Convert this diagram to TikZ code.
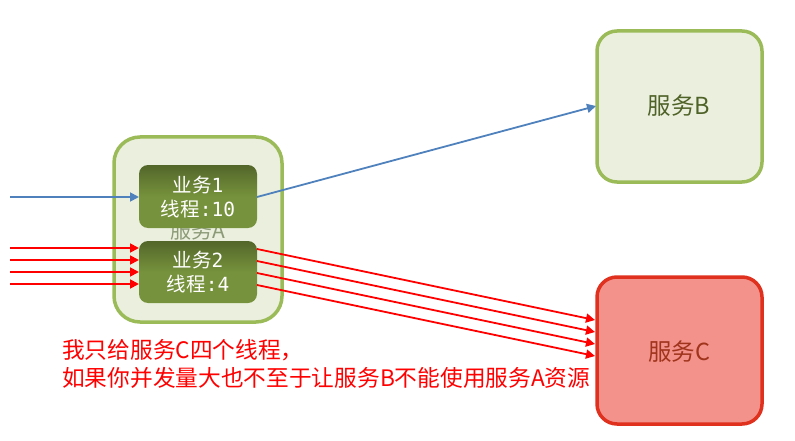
\documentclass[tikz,border=0pt]{standalone}
\usepackage{fontspec}
\setmainfont{Noto Sans CJK SC}
\newfontfamily\monofam{DejaVu Sans Mono}
\usetikzlibrary{arrows.meta}
\definecolor{grnborder}{HTML}{9BBB59}
\definecolor{grnfill}{HTML}{EBF0DE}
\definecolor{olive}{HTML}{76923C}
\definecolor{olivedark}{HTML}{4F6228}
\definecolor{cfill}{HTML}{F2928A}
\definecolor{cborder}{HTML}{E0301E}
\definecolor{ctext}{HTML}{A0341C}
\definecolor{bluearrow}{HTML}{4F81BD}
\definecolor{redarrow}{HTML}{FF0000}
\definecolor{labelA}{HTML}{8C9A78}
\tikzset{
  svcbox/.style={draw=grnborder, fill=grnfill, line width=3.5pt, rounded corners=20pt},
  svcC/.style={draw=cborder, fill=cfill, line width=3.5pt, rounded corners=20pt},
  bizbox/.style={top color=olive!70!black, bottom color=olive, middle color=olive, shading angle=0, rounded corners=9pt, draw=none},
  biztext/.style={text=white, font=\fontsize{19.5}{24}\selectfont, align=center},
  bluearr/.style={draw=bluearrow, line width=1.8pt, -{Triangle[length=9pt,width=9pt]}},
  redarr/.style={draw=redarrow, line width=1.8pt, -{Triangle[length=9pt,width=9pt]}},
}
\begin{document}
\begin{tikzpicture}[x=1pt,y=-1pt]
\useasboundingbox (0,0) rectangle (795,441);
% Service A
\draw[svcbox, rounded corners=26pt] (114,137) rectangle (282,322);
\node[text=labelA, font=\fontsize{21}{23}\selectfont] (labA) at (198,231) {服务A};
% inner boxes
\shade[bizbox] (139,165) rectangle (257,228);
\shade[bizbox] (139,241) rectangle (257,303);
\node[biztext] (b1) at (198,197) {业务{\monofam 1}\\线程{\monofam :10}};
\node[biztext] (b2) at (198,272) {业务{\monofam 2}\\线程{\monofam :4}};
\coordinate (b1w) at (139,197);
\coordinate (b1e) at (257,197);
% Service B
\draw[svcbox] (597,31) rectangle (762,182);
\node[text=olivedark, font=\fontsize{23.5}{25}\selectfont] (sB) at (679,106) {服务B};
\coordinate (sBw) at (596,106);
% Service C
\draw[svcC] (597,277) rectangle (762,424);
\node[text=ctext, font=\fontsize{23.5}{25}\selectfont] (sC) at (679,352) {服务C};
% blue arrows
\coordinate (blin) at (10,197);
\draw[bluearr] (blin) -- (b1w);
\draw[bluearr] (b1e) -- (sBw);
% red arrows in
\foreach \y in {248,260,272,284}{
  \coordinate (rin) at (10,\y);
  \coordinate (rto) at (139,\y);
  \draw[redarr] (rin) -- (rto);
}
% red arrows out
\foreach \ya/\yb in {249/320,261/332,273/344,285/356}{
  \coordinate (ro) at (257,\ya);
  \coordinate (rt) at (595,\yb);
  \draw[redarr] (ro) -- (rt);
}
% caption
\node[text=redarrow, font=\fontsize{22.7}{28}\selectfont, align=left, anchor=north west, inner sep=0pt] (cap) at (62,339) {我只给服务C四个线程，\\如果你并发量大也不至于让服务B不能使用服务A资源};
\end{tikzpicture}
\end{document}
